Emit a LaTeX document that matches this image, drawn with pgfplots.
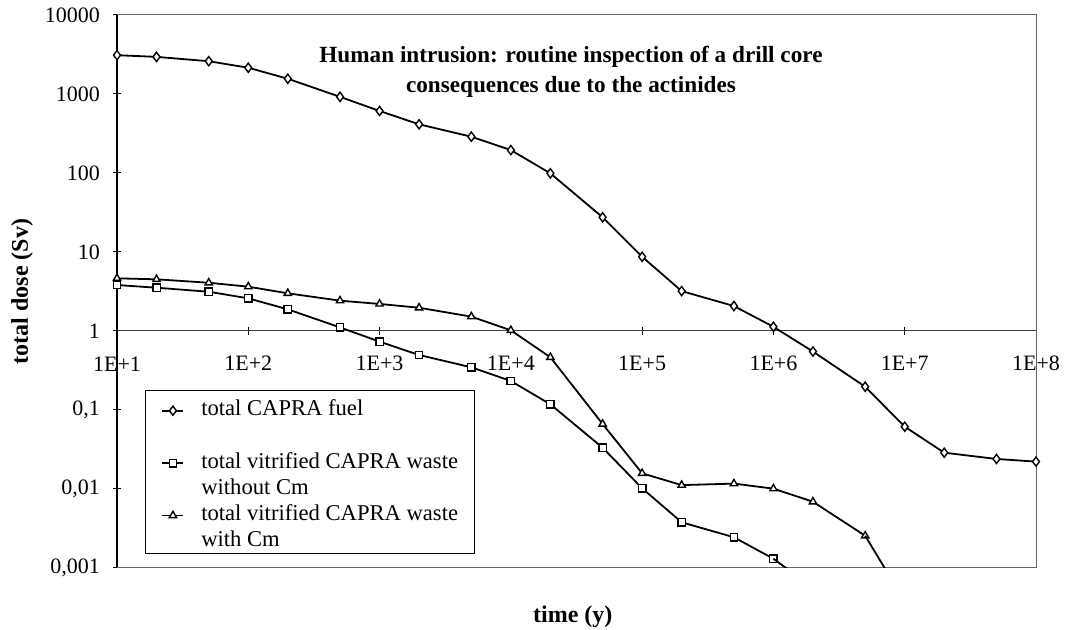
\documentclass[border=0pt]{standalone}
\usepackage{fontspec}
\setmainfont{Liberation Serif}
\usepackage{pgfplots}
\pgfplotsset{compat=1.18}
\begin{document}
\begin{tikzpicture}
\begin{axis}[
 name=ax,
 scale only axis, width=459.5pt, height=276.5pt,
 xmode=log, ymode=log,
 xmin=10, xmax=1e8, ymin=1e-3, ymax=1e4,
 axis x line=middle, axis y line=left,
 axis line style={-},
 y axis line style={black, line width=0.7pt},
 x axis line style={black!75, line width=0.5pt},
 xtick={100,1e3,1e4,1e5,1e6,1e7,1e8},
 xticklabels={1E+2,1E+3,1E+4,1E+5,1E+6,1E+7,1E+8},
 ytick={1e-3,1e-2,1e-1,1,10,100,1000,10000},
 yticklabels={{0,001},{0,01},{0,1},1,10,100,1000,10000},
 xminorticks=false, yminorticks=false,
 tick align=center, major tick length=4pt,
 tick style={black, line width=0.5pt},
 ticklabel style={font=\fontsize{11}{13}\selectfont},
 xticklabel style={yshift=-7pt},
 yticklabel style={xshift=-3pt},
 clip mode=individual,
 legend image code/.code={\draw[mark repeat=2,mark phase=2] plot coordinates {(0pt,2.5pt) (5.25pt,2.5pt) (10.5pt,2.5pt)};},
 legend style={at={(0.0305,0.3215)}, anchor=north west, draw=black, line width=0.5pt,
   font=\fontsize{11.3}{13}\selectfont,
   nodes={anchor=base west, text height=11pt, text depth=2.1pt, inner ysep=0pt, inner xsep=0pt},
   cells={anchor=base west},
   column sep=8.5pt, inner xsep=8pt, inner ysep=1.5pt},
 every axis plot/.append style={black, line width=0.9pt},
]
\draw[black!60, line width=0.5pt] (rel axis cs:0,0) -- (rel axis cs:1,0) -- (rel axis cs:1,1) -- (rel axis cs:0,1);

\addplot[mark=diamond*, mark size=2.3pt, mark options={fill=white, solid, line width=0.7pt}] coordinates {
(10,3100) (20,2950) (50,2600) (100,2150) (200,1560) (500,920) (1000,610) (2000,413) (5000,288)
(1e4,195) (2e4,99) (5e4,27.5) (1e5,8.7) (2e5,3.2) (5e5,2.07) (1e6,1.13) (2e6,0.55) (5e6,0.197)
(1e7,0.0615) (2e7,0.0288) (5e7,0.024) (1e8,0.0222)};
\addlegendentry{total CAPRA fuel}
\addlegendimage{empty legend}
\addlegendentry{}

\addplot[mark=square*, mark size=1.85pt, mark options={fill=white, solid, line width=0.7pt}] coordinates {
(10,3.82) (20,3.53) (50,3.14) (100,2.59) (200,1.88) (500,1.11) (1000,0.733) (2000,0.497) (5000,0.347)
(1e4,0.233) (2e4,0.118) (5e4,0.0333) (1e5,0.0102) (2e5,0.00379) (5e5,0.00245) (1e6,0.00131)};
\addlegendentry{total vitrified CAPRA waste}
\addlegendimage{empty legend}
\addlegendentry{without Cm}

\addplot[mark=triangle*, mark size=2.1pt, mark options={fill=white, solid, line width=0.7pt}] coordinates {
(10,4.64) (20,4.51) (50,4.08) (100,3.64) (200,3.0) (500,2.42) (1000,2.2) (2000,1.97) (5000,1.52)
(1e4,1.02) (2e4,0.465) (5e4,0.0665) (1e5,0.0158) (2e5,0.0112) (5e5,0.0117) (1e6,0.0101)
(2e6,0.0069) (5e6,0.00256)};
\addlegendentry{total vitrified CAPRA waste}
\addlegendimage{empty legend}
\addlegendentry{with Cm}

\addplot[no marks, forget plot] coordinates {(1e6,0.00131) (2e6,0.00056)};
\addplot[no marks, forget plot] coordinates {(5e6,0.00256) (1e7,0.00038)};

\node[font=\bfseries\fontsize{11.6}{14.8}\selectfont, align=center] at (rel axis cs:0.494,0.897)
 {Human intrusion: routine inspection of a drill core\\consequences due to the actinides};
\node[font=\fontsize{11}{13}\selectfont] at ([yshift=-16.5pt]axis cs:10,1) {1E+1};
\node[font=\bfseries\fontsize{12}{14}\selectfont] at ([yshift=-24.5pt]rel axis cs:0.496,0) {time (y)};
\node[font=\bfseries\fontsize{12}{14}\selectfont, rotate=90] at ([xshift=-47.5pt]rel axis cs:0,0.5) {total dose (Sv)};
\end{axis}
\pgfresetboundingbox
\path[use as bounding box] ([shift={(-58.5pt,-31pt)}]ax.south west) rectangle ([shift={(15pt,7.5pt)}]ax.north east);
\end{tikzpicture}
\end{document}
